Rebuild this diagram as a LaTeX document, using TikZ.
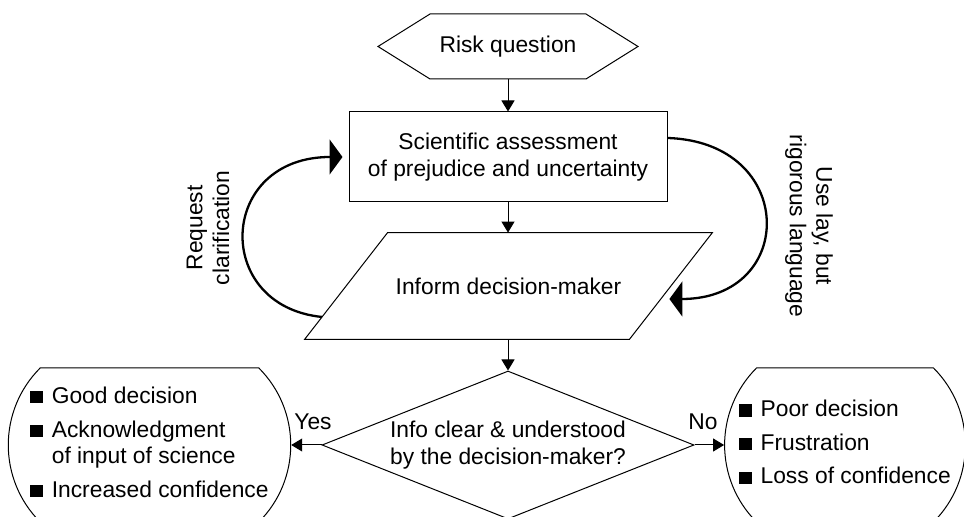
\documentclass[tikz,border=0pt]{standalone}
\usepackage{fontspec}
\setmainfont{Liberation Sans}
\usetikzlibrary{arrows.meta, shapes.geometric, shapes.misc, shapes.symbols, calc}

\tikzset{
  shapebox/.style={draw, line width=0.5pt, align=center, inner sep=2pt},
  flowarrow/.style={-{Triangle[length=5.5pt,width=6.5pt]}, line width=0.5pt},
  backarrow/.style={-{Triangle[length=6.5pt,width=17.5pt]}, line width=1.15pt},
}
\newcommand{\blt}{\rule{6.2pt}{6.2pt}}

\begin{document}
\begin{tikzpicture}[x=0.5pt, y=-0.5pt, font=\fontsize{11.4}{13.3}\selectfont]
\useasboundingbox (0,0) rectangle (964,517);
\clip (0,0) rectangle (964,517);

% main column
\node[shapebox, signal, signal to=west and east, signal pointer angle=64,
      minimum width=130pt, minimum height=32.5pt] (risk) at (508,46.5) {Risk question};
\node[shapebox, rectangle, minimum width=159pt, minimum height=45pt] (sci) at (508,157)
      {Scientific assessment\\of prejudice and uncertainty};
% parallelogram: body node, slanted outline drawn round it
\node[minimum width=120.5pt, minimum height=53pt, inner sep=0pt] (inform) at (508.5,286)
      {Inform decision-maker};
\draw[line width=0.5pt] ([xshift=-41.5pt]inform.south west) -- (inform.south east)
  -- ([xshift=41.5pt]inform.north east) -- (inform.north west) -- cycle;
\node[shapebox, diamond, aspect=2.5, inner sep=0pt, minimum width=186pt, minimum height=74pt] (dec) at (508,445)
      {Info clear \& understood\\by the decision-maker?};

% outcomes
\node[shapebox, rounded rectangle, rounded rectangle arc length=90,
      minimum width=137.5pt, minimum height=77pt] (good) at (149.5,445) {%
  \begin{tabular}{@{}l@{\hspace{4.5pt}}l@{}}
  \blt & Good decision\\[3.5pt]
  \blt & Acknowledgment\\
       & of input of science\\[3.5pt]
  \blt & Increased confidence
  \end{tabular}};
\node[shapebox, rounded rectangle, rounded rectangle arc length=90,
      minimum width=118pt, minimum height=77pt] (poor) at (845,445) {%
  \begin{tabular}{@{}l@{\hspace{4.5pt}}l@{}}
  \blt & Poor decision\\[3.5pt]
  \blt & Frustration\\[3.5pt]
  \blt & Loss of confidence
  \end{tabular}};

% connectors
\draw[flowarrow] (risk.south) -- (sci.north);
\draw[flowarrow] (sci.south) -- (sci.south |- inform.north);
\draw[flowarrow] (sci.south |- inform.south) -- (dec.north);
\draw[flowarrow] (dec.west) -- (good.east);
\draw[flowarrow] (dec.east) -- (poor.west);
\node[anchor=base] (yes) at (313,430) {Yes};
\node[anchor=base] (no) at (703,430) {No};

% feedback loops
\draw[backarrow, shorten >=3pt] ($([xshift=-41.5pt]inform.south west)!0.21!(inform.north west)$)
  .. controls +(-110,-11) and +(-131,0) .. (sci.west);
\draw[backarrow] ([yshift=9.5pt]sci.east)
  .. controls +(130,4) and +(128,0) .. ([xshift=20pt,yshift=-6.5pt]inform.east);
\node[rotate=90, align=center] (clarify) at (208,228) {Request\\clarification};
\node[rotate=-90, align=center] (lay) at (809,226) {Use lay, but\\rigorous language};
\end{tikzpicture}
\end{document}
